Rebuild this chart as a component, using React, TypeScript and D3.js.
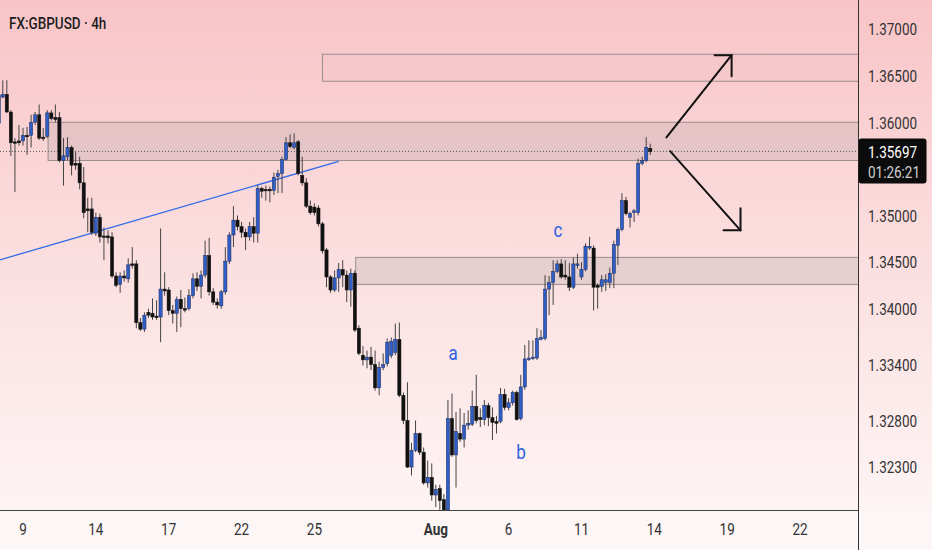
import { useEffect } from 'react';
import * as d3 from 'd3';

// 4h candles, open / high / low / close, first one is bar -6 (bar 0 = Jul 9 00:00)
const FIRST_BAR = -6;
const candles: [number, number, number, number][] = [
  [1.3600, 1.3632, 1.3598, 1.3630], [1.3628, 1.3646, 1.3627, 1.3631], [1.3631, 1.3646, 1.3611, 1.3612],
  [1.3612, 1.3614, 1.3565, 1.3579], [1.3580, 1.3584, 1.3526, 1.3579], [1.3581, 1.3598, 1.3576, 1.3579],
  // 0
  [1.3581, 1.3595, 1.3576, 1.3587], [1.3587, 1.3596, 1.3566, 1.3586], [1.3587, 1.3609, 1.3574, 1.3601],
  [1.3601, 1.3612, 1.3598, 1.3609], [1.3609, 1.3620, 1.3582, 1.3584], [1.3585, 1.3595, 1.3581, 1.3584],
  [1.3586, 1.3614, 1.3584, 1.3611], [1.3611, 1.3614, 1.3603, 1.3605], [1.3606, 1.3620, 1.3601, 1.3604],
  [1.3606, 1.3612, 1.3558, 1.3560],
  // 10
  [1.3560, 1.3584, 1.3533, 1.3565], [1.3564, 1.3585, 1.3560, 1.3574], [1.3574, 1.3576, 1.3544, 1.3555],
  [1.3557, 1.3569, 1.3550, 1.3555], [1.3557, 1.3564, 1.3529, 1.3536], [1.3536, 1.3553, 1.3498, 1.3504],
  [1.3508, 1.3520, 1.3483, 1.3506], [1.3508, 1.3520, 1.3480, 1.3483], [1.3482, 1.3504, 1.3479, 1.3499],
  [1.3499, 1.3503, 1.3472, 1.3478],
  // 20
  [1.3479, 1.3488, 1.3453, 1.3478], [1.3479, 1.3485, 1.3471, 1.3477], [1.3478, 1.3483, 1.3434, 1.3436],
  [1.3436, 1.3440, 1.3424, 1.3426], [1.3427, 1.3440, 1.3418, 1.3436], [1.3436, 1.3442, 1.3430, 1.3434],
  [1.3433, 1.3455, 1.3429, 1.3448], [1.3449, 1.3467, 1.3444, 1.3448], [1.3449, 1.3453, 1.3380, 1.3386],
  [1.3386, 1.3391, 1.3377, 1.3379],
  // 30
  [1.3379, 1.3397, 1.3376, 1.3394], [1.3397, 1.3401, 1.3391, 1.3394], [1.3396, 1.3412, 1.3389, 1.3392],
  [1.3393, 1.3410, 1.3389, 1.3392], [1.3392, 1.3487, 1.3365, 1.3422], [1.3422, 1.3440, 1.3415, 1.3420],
  [1.3421, 1.3424, 1.3394, 1.3399], [1.3399, 1.3405, 1.3385, 1.3396], [1.3396, 1.3414, 1.3376, 1.3411],
  [1.3411, 1.3421, 1.3381, 1.3401],
  // 40
  [1.3401, 1.3413, 1.3397, 1.3400], [1.3401, 1.3422, 1.3399, 1.3415], [1.3415, 1.3439, 1.3412, 1.3433],
  [1.3433, 1.3440, 1.3420, 1.3425], [1.3425, 1.3442, 1.3412, 1.3437], [1.3437, 1.3474, 1.3434, 1.3458],
  [1.3458, 1.3477, 1.3415, 1.3419], [1.3419, 1.3423, 1.3405, 1.3408], [1.3408, 1.3412, 1.3401, 1.3405],
  [1.3404, 1.3421, 1.3401, 1.3419],
  // 50
  [1.3419, 1.3467, 1.3416, 1.3452], [1.3452, 1.3483, 1.3449, 1.3480], [1.3480, 1.3511, 1.3467, 1.3496],
  [1.3496, 1.3501, 1.3485, 1.3489], [1.3489, 1.3494, 1.3477, 1.3483], [1.3483, 1.3487, 1.3464, 1.3478],
  [1.3478, 1.3494, 1.3474, 1.3489], [1.3489, 1.3499, 1.3472, 1.3482], [1.3482, 1.3533, 1.3472, 1.3530],
  [1.3530, 1.3532, 1.3520, 1.3527],
  // 60
  [1.3529, 1.3533, 1.3517, 1.3528], [1.3529, 1.3532, 1.3515, 1.3528], [1.3528, 1.3547, 1.3523, 1.3542],
  [1.3543, 1.3550, 1.3525, 1.3546], [1.3546, 1.3564, 1.3525, 1.3561], [1.3561, 1.3585, 1.3560, 1.3579],
  [1.3579, 1.3588, 1.3573, 1.3575], [1.3574, 1.3589, 1.3572, 1.3579], [1.3580, 1.3582, 1.3544, 1.3546],
  [1.3544, 1.3564, 1.3533, 1.3536],
  // 70
  [1.3536, 1.3541, 1.3509, 1.3511], [1.3511, 1.3517, 1.3502, 1.3504], [1.3510, 1.3514, 1.3501, 1.3504],
  [1.3509, 1.3512, 1.3489, 1.3492], [1.3492, 1.3494, 1.3460, 1.3463], [1.3464, 1.3466, 1.3424, 1.3435],
  [1.3435, 1.3437, 1.3418, 1.3421], [1.3421, 1.3442, 1.3419, 1.3434], [1.3434, 1.3450, 1.3419, 1.3443],
  [1.3443, 1.3453, 1.3424, 1.3437],
  // 80
  [1.3437, 1.3442, 1.3408, 1.3421], [1.3421, 1.3444, 1.3403, 1.3439], [1.3439, 1.3442, 1.3376, 1.3378],
  [1.3380, 1.3383, 1.3351, 1.3353], [1.3351, 1.3361, 1.3340, 1.3346], [1.3346, 1.3356, 1.3337, 1.3349],
  [1.3349, 1.3360, 1.3335, 1.3341], [1.3341, 1.3356, 1.3313, 1.3316], [1.3316, 1.3344, 1.3308, 1.3338],
  [1.3338, 1.3353, 1.3335, 1.3341],
  // 90
  [1.3342, 1.3369, 1.3339, 1.3365], [1.3351, 1.3370, 1.3348, 1.3366], [1.3354, 1.3385, 1.3351, 1.3368],
  [1.3368, 1.3386, 1.3306, 1.3308], [1.3308, 1.3311, 1.3277, 1.3281], [1.3281, 1.3322, 1.3230, 1.3231],
  [1.3231, 1.3257, 1.3222, 1.3249], [1.3249, 1.3281, 1.3247, 1.3267], [1.3267, 1.3268, 1.3244, 1.3247],
  [1.3247, 1.3252, 1.3212, 1.3214],
  // 100
  [1.3214, 1.3238, 1.3209, 1.3220], [1.3220, 1.3235, 1.3195, 1.3201], [1.3201, 1.3212, 1.3188, 1.3207],
  [1.3208, 1.3212, 1.3185, 1.3195], [1.3196, 1.3202, 1.3180, 1.3185], [1.3185, 1.3303, 1.3180, 1.3283],
  [1.3283, 1.3310, 1.3242, 1.3244], [1.3244, 1.3290, 1.3209, 1.3269], [1.3267, 1.3294, 1.3258, 1.3261],
  [1.3261, 1.3289, 1.3252, 1.3276],
  // 110
  [1.3276, 1.3292, 1.3271, 1.3278], [1.3277, 1.3313, 1.3275, 1.3296], [1.3296, 1.3330, 1.3278, 1.3281],
  [1.3284, 1.3294, 1.3274, 1.3282], [1.3282, 1.3303, 1.3276, 1.3297], [1.3297, 1.3300, 1.3275, 1.3284],
  [1.3284, 1.3295, 1.3260, 1.3279], [1.3280, 1.3286, 1.3267, 1.3278], [1.3280, 1.3316, 1.3278, 1.3309],
  [1.3309, 1.3315, 1.3292, 1.3295],
  // 120
  [1.3295, 1.3305, 1.3292, 1.3300], [1.3300, 1.3313, 1.3297, 1.3311], [1.3311, 1.3313, 1.3281, 1.3282],
  [1.3283, 1.3330, 1.3281, 1.3317], [1.3317, 1.3362, 1.3314, 1.3347], [1.3347, 1.3367, 1.3345, 1.3348],
  [1.3348, 1.3367, 1.3346, 1.3349], [1.3348, 1.3380, 1.3346, 1.3369], [1.3368, 1.3378, 1.3367, 1.3370],
  [1.3369, 1.3437, 1.3367, 1.3422],
  // 130
  [1.3422, 1.3436, 1.3394, 1.3429], [1.3429, 1.3453, 1.3405, 1.3441], [1.3441, 1.3453, 1.3439, 1.3449],
  [1.3449, 1.3454, 1.3433, 1.3435], [1.3437, 1.3453, 1.3432, 1.3435], [1.3435, 1.3450, 1.3420, 1.3424],
  [1.3424, 1.3456, 1.3422, 1.3449], [1.3448, 1.3460, 1.3444, 1.3449], [1.3435, 1.3451, 1.3432, 1.3443],
  [1.3443, 1.3471, 1.3441, 1.3468],
  // 140
  [1.3466, 1.3478, 1.3464, 1.3468], [1.3466, 1.3469, 1.3399, 1.3424], [1.3426, 1.3428, 1.3401, 1.3424],
  [1.3425, 1.3437, 1.3419, 1.3432], [1.3429, 1.3438, 1.3420, 1.3432], [1.3429, 1.3445, 1.3423, 1.3439],
  [1.3439, 1.3474, 1.3423, 1.3470], [1.3469, 1.3488, 1.3448, 1.3486], [1.3486, 1.3525, 1.3484, 1.3517],
  [1.3517, 1.3521, 1.3501, 1.3503],
  // 150
  [1.3499, 1.3505, 1.3488, 1.3503], [1.3504, 1.3508, 1.3494, 1.3506], [1.3504, 1.3562, 1.3501, 1.3557],
  [1.3557, 1.3564, 1.3555, 1.3560], [1.3560, 1.3585, 1.3558, 1.3574], [1.3573, 1.3578, 1.3566, 1.35697],
];

const lastPrice = 1.35697;
const countdown = '01:26:21';
const title = 'FX:GBPUSD · 4h';

const priceTicks = [1.37, 1.365, 1.36, 1.35, 1.345, 1.34, 1.334, 1.328, 1.323];
// label, trading-day index (6 bars per day)
const dayTicks: [string, number][] = [
  ['9', 0], ['14', 3], ['17', 6], ['22', 9], ['25', 12], ['Aug', 17],
  ['6', 20], ['11', 23], ['14', 26], ['19', 29], ['22', 32],
];

// rectangles: start bar, top price, bottom price
const zoneStart = [74, 6.2, 82.2];
const zoneTop = [1.3674, 1.3601, 1.3456];
const zoneBottom = [1.3645, 1.3560, 1.3427];

// trend line anchors [bar, price]
const trendLine: [number, number][] = [[-6, 1.3453], [78, 1.3559]];

// projection arrows [bar, price] from -> to
const arrowUp: [number, number][] = [[159.0, 1.35847], [175.1, 1.3673]];
const arrowDown: [number, number][] = [[159.9, 1.3570], [177.3, 1.3485]];

// wave labels
const waveLabels: [string, number, number][] = [
  ['a', 106.3, 1.3353], ['b', 123.05, 1.3247], ['c', 132.2, 1.3485],
];

const W = 932, H = 550;
const plotR = 858, plotB = 510;
const FONT = "Roboto, 'Noto Sans', sans-serif";

function T({ x, y, children, anchor = 'start', size = 13.5, weight = 400, fill = '#333' }: any) {
  return (
    <text
      transform={`translate(${x},${y}) scale(1,1.22)`}
      textAnchor={anchor}
      dominantBaseline="central"
      fontSize={size}
      fontWeight={weight}
      fontFamily={FONT}
      fill={fill}
    >
      {children}
    </text>
  );
}

export default function App() {
  useEffect(() => {
    document.body.style.margin = '0';
  }, []);

  const x = d3.scaleLinear().domain([0, 192]).range([23, 800]);
  const y = d3.scaleLinear().domain([1.323, 1.37]).range([468, 30]);

  const line = d3.line<[number, number]>().x(d => x(d[0])).y(d => y(d[1]));

  const up = arrowUp.map(d => [x(d[0]), y(d[1])]);
  const dn = arrowDown.map(d => [x(d[0]), y(d[1])]);

  return (
    <svg width={W} height={H} style={{ display: 'block' }}>
      <defs>
        <linearGradient id="bg" x1="0" y1="0" x2="0" y2="1">
          <stop offset="0" stopColor="#f8c4c7" />
          <stop offset="0.45" stopColor="#fbdcdd" />
          <stop offset="1" stopColor="#fef4f4" />
        </linearGradient>
        <clipPath id="plot">
          <rect x={0} y={0} width={plotR} height={plotB} />
        </clipPath>
      </defs>

      <rect x={0} y={0} width={W} height={plotB} fill="url(#bg)" />
      <rect x={0} y={plotB} width={W} height={H - plotB} fill="#fdf6f6" />

      <g clipPath="url(#plot)">
        {/* zones */}
        {zoneStart.map((s, i) => (
          <rect
            key={i}
            x={x(s)}
            y={y(zoneTop[i])}
            width={plotR - x(s) + 2}
            height={y(zoneBottom[i]) - y(zoneTop[i])}
            fill={i === 0 ? 'rgba(235,190,195,0.25)' : 'rgba(160,145,150,0.22)'}
            stroke="#9a8e90"
            strokeWidth={1}
          />
        ))}

        {/* trend line */}
        <path d={line(trendLine) || ''} fill="none" stroke="#2f6be8" strokeWidth={1.3} />

        {/* last price dotted line */}
        <line x1={0} x2={plotR} y1={y(lastPrice)} y2={y(lastPrice)}
          stroke="#555" strokeWidth={1} strokeDasharray="1 2" />

        {/* candles */}
        {candles.map((c, i) => {
          const [o, h, l, cl] = c;
          const cx = x(FIRST_BAR + i);
          const isUp = cl >= o;
          const top = y(Math.max(o, cl));
          const bh = Math.max(1.5, Math.abs(y(o) - y(cl)));
          return (
            <g key={i}>
              <line x1={cx} x2={cx} y1={y(h)} y2={y(l)} stroke="#444" strokeWidth={1} />
              <rect x={cx - 1.6} y={top} width={3.2} height={bh}
                fill={isUp ? '#2f5fc6' : '#111'} stroke={isUp ? '#1b2a5a' : '#111'} strokeWidth={0.5} />
            </g>
          );
        })}

        {/* wave labels */}
        {waveLabels.map(([t, b, p]) => (
          <T key={t} x={x(b)} y={y(p)} anchor="middle" size={17} fill="#2b5fe0">{t}</T>
        ))}

        {/* arrows */}
        <g stroke="#111" strokeWidth={2} fill="none" strokeLinecap="round">
          <line x1={up[0][0]} y1={up[0][1]} x2={up[1][0]} y2={up[1][1]} />
          <path d={`M${up[1][0] - 17},${up[1][1]} L${up[1][0]},${up[1][1]} L${up[1][0]},${up[1][1] + 21}`} />
          <line x1={dn[0][0]} y1={dn[0][1]} x2={dn[1][0]} y2={dn[1][1]} />
          <path d={`M${dn[1][0] - 17},${dn[1][1]} L${dn[1][0]},${dn[1][1]} L${dn[1][0]},${dn[1][1] - 22}`} />
        </g>
      </g>

      {/* axes borders */}
      <line x1={plotR + 0.5} x2={plotR + 0.5} y1={0} y2={H} stroke="#333" strokeWidth={1} />
      <line x1={0} x2={plotR} y1={plotB + 0.5} y2={plotB + 0.5} stroke="#444" strokeWidth={1} />

      {/* price axis */}
      {priceTicks.map(p => (
        <T key={p} x={868} y={y(p)}>{p.toFixed(5)}</T>
      ))}

      {/* last price tag */}
      <rect x={plotR + 0.5} y={y(lastPrice) - 13} width={68} height={45} rx={3} fill="#0c0c0c" />
      <T x={868} y={y(lastPrice) + 1} fill="#fff">{lastPrice.toFixed(5)}</T>
      <T x={868} y={y(lastPrice) + 21} fill="#d0d0d0">{countdown}</T>

      {/* time axis */}
      {dayTicks.map(([t, d]) => (
        <T key={t + d} x={x(d * 6)} y={530} anchor="middle" weight={t === 'Aug' ? 700 : 400}>{t}</T>
      ))}

      {/* title */}
      <T x={9} y={23.5} size={13.5} weight={500} fill="#1e1e1e">{title}</T>
    </svg>
  );
}
